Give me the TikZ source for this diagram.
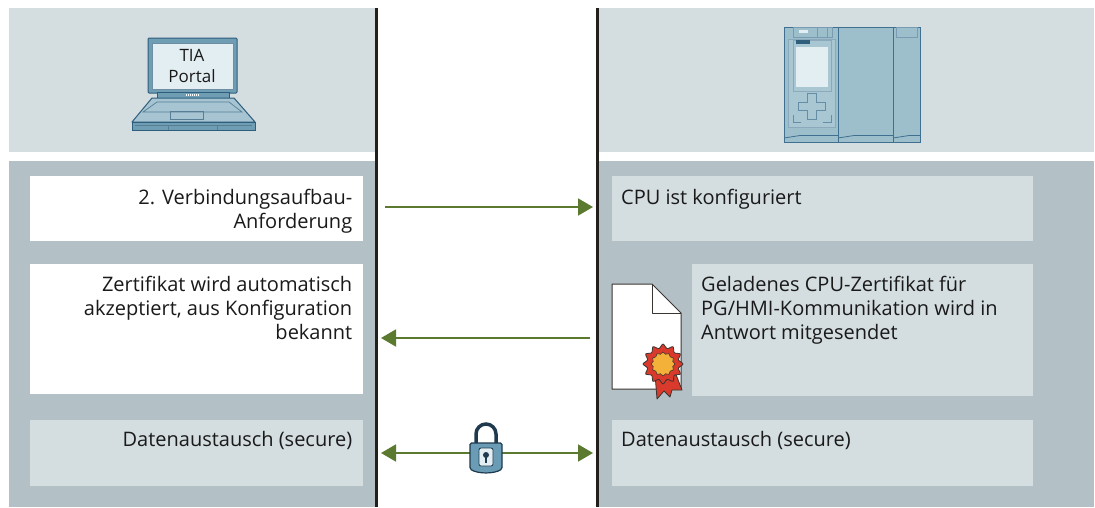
\documentclass[tikz,border=0pt]{standalone}
\usepackage{fontspec}
\setmainfont{Open Sans}
\usetikzlibrary{
  arrows.meta,
  positioning,
  calc
}

\definecolor{paneltop}{HTML}{D4DDE0}
\definecolor{panelbot}{HTML}{B3C0C6}
\definecolor{sepline}{HTML}{231F1B}
\definecolor{msggreen}{HTML}{5B7A2F}
\definecolor{txtdark}{HTML}{1A1A1A}
\definecolor{devframe}{HTML}{6E9DB4}
\definecolor{devdark}{HTML}{2E5E7C}
\definecolor{devlight}{HTML}{E3EEF3}
\definecolor{devkey}{HTML}{A6C4D1}
\definecolor{cpufill}{HTML}{9DBECB}
\definecolor{cpuline}{HTML}{3F7090}
\definecolor{cpupanel}{HTML}{A8C7D2}
\definecolor{certline}{HTML}{3A3530}
\definecolor{sealred}{HTML}{D93A2B}
\definecolor{sealgold}{HTML}{F4B13A}
\definecolor{lockbody}{HTML}{6A9DB5}
\definecolor{lockdark}{HTML}{1F3A4F}

\begin{document}
\begin{tikzpicture}[x=1pt,y=-1pt]
  \tikzset{
    msgbox/.style = {anchor=north west, inner sep=0pt, draw=none,
      minimum width=#1},
    msgbox/.default = 333pt,
    msgtext/.style = {inner sep=0pt, text=txtdark,
      font=\fontsize{20}{24}\selectfont},
    msg/.style = {draw=msggreen, line width=1.8pt},
    tip/.tip = {Triangle[length=15pt,width=17pt]},
    devline/.style = {draw=devdark, line width=1pt},
  }
  \useasboundingbox (0,0) rectangle (1095,507);

  % panels, PG side left and CPU side right
  \foreach \x/\y in {9/376, 597/1094} {
    \fill[paneltop] (\x,8) rectangle (\y,152);
    \fill[panelbot] (\x,161) rectangle (\y,507);
  }

  % message boxes, PG side
  \node[msgbox, fill=white, minimum height=65pt] (req) at (30,176) {};
  \node[msgbox, fill=white, minimum height=130pt] (acc) at (30,264) {};
  \node[msgbox, fill=paneltop, minimum height=66pt] (datl) at (30,420) {};
  % message boxes, CPU side
  \node[msgbox=421pt, fill=paneltop, minimum height=65pt] (conf) at (612,176) {};
  \node[msgbox=341pt, fill=paneltop, minimum height=132pt] (cert) at (692,264) {};
  \node[msgbox=421pt, fill=paneltop, minimum height=66pt] (datr) at (612,420) {};

  \node[msgtext, anchor=north east, align=right] (req-t)
    at ([xshift=-11pt,yshift=-12.5pt]req.north east)
    {2. Verbindungsaufbau-\\Anforderung};
  \node[msgtext, anchor=north east, align=right] (acc-t)
    at ([xshift=-11pt,yshift=-12pt]acc.north east)
    {Zertifikat wird automatisch\\akzeptiert, aus Konfiguration\\bekannt};
  \node[msgtext, anchor=north east] (datl-t)
    at ([xshift=-11pt,yshift=-11pt]datl.north east) {Datenaustausch (secure)};
  \node[msgtext, anchor=north west] (conf-t)
    at ([xshift=9pt,yshift=-12.5pt]conf.north west) {CPU ist konfiguriert};
  \node[msgtext, anchor=north west, align=left] (cert-t)
    at ([xshift=9pt,yshift=-12pt]cert.north west)
    {Geladenes CPU-Zertifikat für\\PG/HMI-Kommunikation wird in\\Antwort mitgesendet};
  \node[msgtext, anchor=north west] (datr-t)
    at ([xshift=9pt,yshift=-11pt]datr.north west) {Datenaustausch (secure)};

  % the two lifelines
  \foreach \x in {376.5, 597.5}
    \draw[sepline, line width=3pt] (\x,8) -- (\x,507);

  % message arrows between the lifelines
  \coordinate (req-a) at (385,207);
  \coordinate (req-b) at (593,207);
  \coordinate (acc-a) at (590,338);
  \coordinate (acc-b) at (381,338);
  \coordinate (dat-a) at (381,453);
  \coordinate (dat-b) at (593,453);
  \draw[msg, -tip] (req-a) -- (req-b);
  \draw[msg, -tip] (acc-a) -- (acc-b);
  \draw[msg, tip-tip] (dat-a) -- (dat-b);

  % padlock on the secure channel
  \draw[lockdark, line width=3.5pt] (476,445) -- (476,434)
    arc[start angle=180, end angle=360, radius=10] -- (496,445);
  \draw[fill=lockbody, draw=lockdark, line width=1.2pt, rounded corners=1.5pt]
    (470,443) -- (502,443) -- (502,469)
    .. controls (494,474) and (478,474) .. (470,469) -- cycle;
  \draw[fill=devlight, draw=lockdark, line width=0.8pt, rounded corners=2pt]
    (479,448) rectangle (493,466);
  \fill[lockdark] (486,455) circle (3);
  \fill[lockdark] (485,455) rectangle (487,463);

  % laptop (PG)
  \draw[devline, fill=devframe, rounded corners=1pt] (148,38) rectangle (237,93);
  \draw[fill=devlight, draw=devdark!70] (152,43) rectangle (233,89);
  \node[inner sep=0pt, align=center, text=txtdark,
    font=\fontsize{17}{21}\selectfont] (tia) at (192,66) {TIA\\Portal};
  \draw[devline, fill=devframe] (157,92) rectangle (229,98);
  \foreach \x in {186,188,...,198}
    \draw[white, line width=0.8pt] (\x,94) -- (\x,96);
  \draw[devline, fill=devkey, line join=round]
    (152,98) -- (234,98) -- (255,122) -- (132,122) -- cycle;
  \draw[draw=devdark!80, line width=0.7pt] (157,102) -- (229,102) -- (242,112)
    -- (143,112) -- cycle;
  \draw[draw=devdark!80, line width=0.7pt] (170,111) rectangle (203,119);
  \draw[devline, fill=devframe] (132,122) rectangle (255,130);
  \draw[draw=devdark!80, line width=0.7pt] (135,125) -- (252,125)
    (168,125) -- (168,130) (217,125) -- (217,130);

  % CPU
  \draw[cpuline, fill=cpufill, line width=1pt] (784,27) rectangle (920,142);
  \foreach \x in {838, 893}
    \draw[cpuline, line width=1pt] (\x,27) -- (\x,142);
  \foreach \x/\y in {784/838, 838/893, 893/920}
    \draw[cpuline, line width=0.8pt] (\x,138) -- ($(\x,135.5)+(16,0)$) -- (\y,135.5);
  \draw[cpuline!60, fill=cpupanel, line width=0.8pt] (788,39) rectangle (835,127);
  \draw[cpuline!70, line width=0.8pt] (793,27) rectangle (832,37)
    (817,27) -- (817,37) (827,27) -- (827,37);
  \fill[devlight] (799,30) rectangle (808,33);
  \draw[cpuline!60, line width=0.8pt] (793,40) rectangle (831,91);
  \fill[devdark] (796,40) rectangle (810,44);
  \fill[devlight] (796,47) rectangle (828,87);
  \draw[cpuline!80, line width=0.8pt]
    (807,93) -- (816,93) -- (816,102) -- (825,102) -- (825,110) -- (816,110)
    -- (816,119) -- (807,119) -- (807,110) -- (798,110) -- (798,102)
    -- (807,102) -- cycle;
  \draw[cpuline!80, line width=0.8pt] (793,115) -- (793,122) -- (801,122)
    (831,115) -- (831,122) -- (823,122);
  \draw[cpuline!70, line width=0.8pt] (896,27) rectangle (917,37);

  % certificate with seal
  \draw[fill=white, draw=certline, line width=1pt, line join=round]
    (612,284) -- (652,284) -- (681,313) -- (681,389) -- (612,389) -- cycle;
  \draw[certline, line width=1pt, line join=round] (652,284) -- (652,313) -- (681,313);
  \draw[fill=sealred, draw=certline, line width=0.8pt, line join=round]
    (655,374) -- (657,399) -- (664,391) -- (670,397) -- (672,390)
    -- (682,390) -- (675,372) -- cycle;
  \draw[fill=sealred, draw=certline, line width=0.8pt]
    plot[smooth cycle, domain=0:345, samples=24, variable=\t]
    ({663+(18+2*cos(12*\t))*cos(\t)}, {364+(18+2*cos(12*\t))*sin(\t)});
  \draw[fill=sealgold, draw=certline, line width=0.6pt]
    plot[smooth cycle, domain=0:345, samples=24, variable=\t]
    ({663+(11+0.9*cos(12*\t))*cos(\t)}, {364+(11+0.9*cos(12*\t))*sin(\t)});
\end{tikzpicture}
\end{document}
